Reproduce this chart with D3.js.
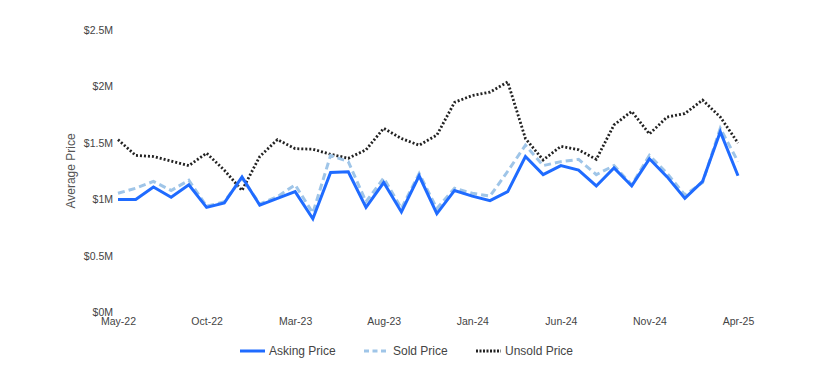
<!DOCTYPE html>
<html><head><meta charset="utf-8">
<script src="https://cdn.jsdelivr.net/npm/d3@7"></script>
<style>body{margin:0;background:#fff;font-family:"Liberation Sans",Arial,sans-serif;}</style>
</head><body><svg id="c" width="813" height="378"></svg>
<script>
const months = ["May-22","Jun-22","Jul-22","Aug-22","Sep-22","Oct-22","Nov-22","Dec-22","Jan-23","Feb-23","Mar-23","Apr-23","May-23","Jun-23","Jul-23","Aug-23","Sep-23","Oct-23","Nov-23","Dec-23","Jan-24","Feb-24","Mar-24","Apr-24","May-24","Jun-24","Jul-24","Aug-24","Sep-24","Oct-24","Nov-24","Dec-24","Jan-25","Feb-25","Mar-25","Apr-25"];
const asking = [1.00,1.00,1.11,1.02,1.13,0.93,0.97,1.20,0.95,1.01,1.07,0.83,1.24,1.245,0.93,1.15,0.89,1.21,0.875,1.08,1.03,0.99,1.07,1.38,1.22,1.30,1.26,1.12,1.28,1.12,1.36,1.20,1.01,1.16,1.60,1.21];
const sold = [1.055,1.10,1.16,1.08,1.17,0.94,0.98,1.19,0.96,1.025,1.13,0.88,1.39,1.335,0.98,1.19,0.92,1.23,0.92,1.10,1.055,1.03,1.25,1.48,1.30,1.335,1.355,1.22,1.30,1.13,1.39,1.23,1.04,1.15,1.63,1.335];
const unsold = [1.53,1.39,1.38,1.34,1.30,1.41,1.26,1.08,1.38,1.53,1.45,1.445,1.40,1.365,1.44,1.63,1.54,1.48,1.57,1.86,1.92,1.95,2.04,1.54,1.35,1.47,1.44,1.355,1.66,1.78,1.58,1.73,1.76,1.88,1.73,1.50];
const yTicks = [0,0.5,1,1.5,2,2.5];
const xTickLabels = ["May-22","Oct-22","Mar-23","Aug-23","Jan-24","Jun-24","Nov-24","Apr-25"];

const svg = d3.select("#c");
const x = d3.scalePoint().domain(months).range([118,738]);
const y = d3.scaleLinear().domain([0,2.5]).range([312.5,30]);

const yAxis = svg.append("g").attr("transform","translate(113,0)")
  .call(d3.axisLeft(y).tickValues(yTicks).tickSize(0).tickPadding(0).tickFormat(d=>"$"+d+"M"));
yAxis.select(".domain").remove();
yAxis.selectAll("text").attr("font-family","Liberation Sans, Arial, sans-serif").attr("font-size","10.5px").attr("fill","#444");

const xAxis = svg.append("g").attr("transform","translate(0,318)")
  .call(d3.axisBottom(x).tickValues(xTickLabels).tickSize(0).tickPadding(0));
xAxis.select(".domain").remove();
xAxis.selectAll("text").attr("font-family","Liberation Sans, Arial, sans-serif").attr("font-size","10.5px").attr("fill","#444");

svg.append("text").attr("transform","translate(75,171) rotate(-90)").attr("text-anchor","middle")
  .attr("font-size","12px").attr("fill","#555").text("Average Price");

const series = [
  {name:"Unsold Price", data:unsold, color:"#222", dash:"2,2", width:2.8},
  {name:"Sold Price", data:sold, color:"#9fc5e8", dash:"7,4", width:3},
  {name:"Asking Price", data:asking, color:"#1f6bff", dash:null, width:3}
];
const line = d3.line().x((d,i)=>x(months[i])).y(d=>y(d));
series.forEach(s=>{
  svg.append("path").datum(s.data).attr("d",line).attr("fill","none")
    .attr("stroke",s.color).attr("stroke-width",s.width)
    .attr("stroke-dasharray",s.dash);
});

const legend = [
  {name:"Asking Price", color:"#1f6bff", dash:null, x:240},
  {name:"Sold Price", color:"#9fc5e8", dash:"5,3.5", x:364},
  {name:"Unsold Price", color:"#222", dash:"2,1.5", x:476}
];
legend.forEach(l=>{
  svg.append("line").attr("x1",l.x).attr("x2",l.x+25).attr("y1",351).attr("y2",351)
    .attr("stroke",l.color).attr("stroke-width",3).attr("stroke-dasharray",l.dash);
  svg.append("text").attr("x",l.x+29).attr("y",355).attr("font-size","12px").attr("fill","#444").text(l.name);
});
</script></body></html>
